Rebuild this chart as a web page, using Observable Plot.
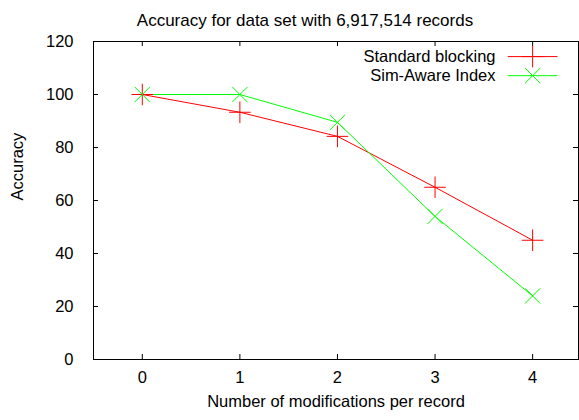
<!DOCTYPE html>
<html>
<head>
<meta charset="utf-8">
<script src="https://cdn.jsdelivr.net/npm/d3@7"></script>
<script src="https://cdn.jsdelivr.net/npm/@observablehq/plot@0.6"></script>
<style>
  html, body { margin: 0; padding: 0; background: #fff; }
  #chart svg { display: block; }
</style>
</head>
<body>
<div id="chart"></div>
<script>
const title = "Accuracy for data set with 6,917,514 records";
const xLabel = "Number of modifications per record";
const yLabel = "Accuracy";
const modifications = [0, 1, 2, 3, 4];
const standardBlocking = [100, 93.3, 84.2, 65, 45];
const simAwareIndex = [100, 100, 89.5, 54, 24];
const seriesNames = ["Standard blocking", "Sim-Aware Index"];
const seriesColors = ["#ff0000", "#00ff00"];
const seriesSymbols = ["plus", "times"];
const xTicks = [0, 1, 2, 3, 4];
const yTicks = [0, 20, 40, 60, 80, 100, 120];

const W = 579, H = 420;
const mL = 93, mR = 1, mT = 41, mB = 61;
const fw = W - mL - mR, fh = H - mT - mB;
const font = "Liberation Sans, Arial, Helvetica, sans-serif";
const fs = 16.5;

const data = [];
[standardBlocking, simAwareIndex].forEach((vals, s) => {
  vals.forEach((v, i) => data.push({series: seriesNames[s], x: modifications[i], y: v}));
});

// legend rows (in data units of the chart scales)
const legend = seriesNames.map((name, i) => ({
  series: name, y: [114.3, 107.1][i], x1: 3.75, x2: 4.26, xm: 4.0, xt: 3.62
}));

const chart = Plot.plot({
  width: W, height: H,
  marginLeft: mL, marginRight: mR, marginTop: mT, marginBottom: mB,
  style: {fontFamily: font, fontSize: fs + "px", color: "#000", background: "#fff"},
  x: {domain: [-0.5, 4.47], axis: null},
  y: {domain: [0, 120], axis: null},
  color: {domain: seriesNames, range: seriesColors},
  symbol: {domain: seriesNames, range: seriesSymbols},
  marks: [
    // ticks (inward, mirrored)
    Plot.tickY(yTicks, {y: d => d, insetRight: fw - 5, stroke: "#000", strokeWidth: 1}),
    Plot.tickY(yTicks, {y: d => d, insetLeft: fw - 5, stroke: "#000", strokeWidth: 1}),
    Plot.tickX(xTicks, {x: d => d, insetTop: fh - 5, stroke: "#000", strokeWidth: 1}),
    Plot.tickX(xTicks, {x: d => d, insetBottom: fh - 5, stroke: "#000", strokeWidth: 1}),
    // tick labels
    Plot.axisY(yTicks, {anchor: "left", tickSize: 0, tickPadding: 20, label: null, fontSize: fs}),
    Plot.axisX(xTicks, {anchor: "bottom", tickSize: 0, tickPadding: 12, label: null, fontSize: fs}),
    // data
    Plot.line(data, {x: "x", y: "y", z: "series", stroke: "series", strokeWidth: 1}),
    Plot.dot(data, {x: "x", y: "y", symbol: "series", stroke: "series", r: 7, strokeWidth: 1}),
    // legend
    Plot.ruleY(legend, {y: "y", x1: "x1", x2: "x2", stroke: "series", strokeWidth: 1}),
    Plot.dot(legend, {x: "xm", y: "y", symbol: "series", stroke: "series", r: 7, strokeWidth: 1}),
    Plot.text(legend, {x: "xt", y: "y", text: "series", textAnchor: "end", fontSize: fs, fill: "#000"}),
    // frame
    Plot.frame({stroke: "#000", strokeWidth: 1}),
    // titles
    Plot.text([title], {frameAnchor: "top", dy: -28, dx: -31, fontSize: 17, fill: "#000"}),
    Plot.text([xLabel], {frameAnchor: "bottom", dy: 47, fontSize: fs, fill: "#000"}),
    Plot.text([yLabel], {frameAnchor: "left", dx: -76, rotate: -90, fontSize: fs, fill: "#000"})
  ]
});
document.getElementById("chart").append(chart);
</script>
</body>
</html>
